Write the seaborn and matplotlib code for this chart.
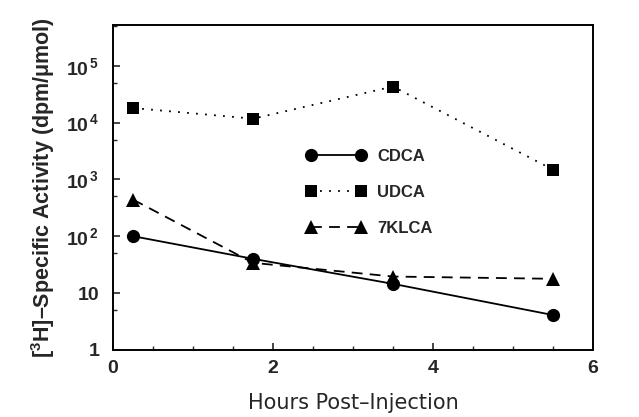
import matplotlib
matplotlib.use("Agg")
import math
import matplotlib.pyplot as plt
import matplotlib.ticker as mticker
import seaborn as sns
import pandas as pd

hours = [0.25, 1.75, 3.5, 5.5]
cdca = [100, 40, 14.5, 4.1]
udca = [18000, 11700, 43000, 1480]
klca = [440, 34, 19.5, 17.8]
series_names = ["CDCA", "UDCA", "7KLCA"]
y_ticks = [1, 10, 100, 1000, 10000, 100000]

sns.set_theme(style="white")
plt.rcParams["font.family"] = ["Liberation Sans", "DejaVu Sans"]
plt.rcParams["mathtext.fontset"] = "custom"
plt.rcParams["mathtext.rm"] = "Liberation Sans:bold"
plt.rcParams["mathtext.bf"] = "Liberation Sans:bold"
plt.rcParams["mathtext.it"] = "Liberation Sans:bold"

df = pd.DataFrame({"hours": hours * 3,
                   "value": cdca + udca + klca,
                   "series": [n for n in series_names for _ in hours]})

fig = plt.figure(figsize=(6.39, 4.17), dpi=100)
ax = fig.add_axes([0.177, 0.161, 0.751, 0.779])

styles = {"CDCA": dict(marker="o", linestyle="-", markersize=9.5),
          "UDCA": dict(marker="s", linestyle=(0, (1, 4)), markersize=9),
          "7KLCA": dict(marker="^", linestyle=(0, (6, 4)), markersize=9.5)}
for name in series_names:
    sub = df[df["series"] == name]
    sns.lineplot(data=sub, x="hours", y="value", ax=ax, color="black",
                 linewidth=1.3, markeredgewidth=0, label=name,
                 **styles[name])

ax.set_yscale("log")
ax.set_xlim(0, 6)
ax.set_ylim(1, 5.2e5)
ax.set_xticks([0, 2, 4, 6])
ax.xaxis.set_minor_locator(mticker.MultipleLocator(0.5))
ax.set_yticks(y_ticks)
ax.yaxis.set_minor_locator(mticker.FixedLocator([5 * t for t in y_ticks]))
ax.yaxis.set_minor_formatter(mticker.NullFormatter())

def yfmt(v, pos):
    if v == 1:
        return "1"
    if v == 10:
        return "10"
    e = int(round(math.log10(v)))
    return r"$10^{\,%d}$" % e
ax.yaxis.set_major_formatter(mticker.FuncFormatter(yfmt))

ax.tick_params(axis="both", which="major", direction="in", length=5, width=1.2,
               labelsize=14, bottom=True, left=True, top=False, right=False)
ax.tick_params(axis="x", which="major", pad=7)
ax.tick_params(axis="y", which="major", pad=10)
ax.tick_params(axis="both", which="minor", direction="in", length=3, width=1.0,
               bottom=True, left=True, top=False, right=False)
for lab in ax.get_xticklabels() + ax.get_yticklabels():
    lab.set_fontweight("bold")
for s in ax.spines.values():
    s.set_color("black")
    s.set_linewidth(1.4)

ax.set_xlabel("Hours Post\u2013Injection", fontsize=15, labelpad=12,
              family="DejaVu Sans")
ax.set_ylabel("[$^{3}$H]\u2013Specific Activity (dpm/\u03bcmol)", fontsize=15.5,
              fontweight="bold", labelpad=6)

leg = ax.legend(loc="upper left", bbox_to_anchor=(0.37, 0.665), frameon=False,
                numpoints=2, handlelength=3.6, labelspacing=1.25, fontsize=12,
                handletextpad=0.7)
for t in leg.get_texts():
    t.set_fontweight("bold")

fig.savefig("out.png", dpi=100)
